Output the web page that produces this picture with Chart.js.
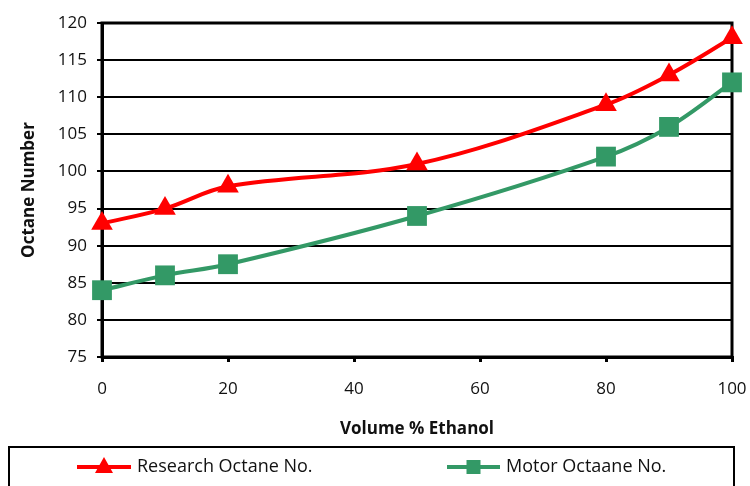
<!DOCTYPE html>
<html lang="en">
<head>
    <meta charset="UTF-8">
    <title>Octane Number vs Volume % Ethanol</title>
    <script src="https://cdn.jsdelivr.net/npm/chart.js"></script>
    <style>
        html, body { margin: 0; padding: 0; background: #fff; }
        #wrap { width: 750px; height: 486px; position: relative; }
    </style>
</head>
<body>
    <div id="wrap"><canvas id="octane-chart"></canvas></div>

    <script>
        // Volume % ethanol in the blend
        const ethanol = [0, 10, 20, 50, 80, 90, 100];
        // Octane numbers per blend
        const researchOctane = [93, 95, 98, 101, 109, 113, 118];
        const motorOctane = [84, 86, 87.5, 94, 102, 106, 112];
        const yTicks = [75, 80, 85, 90, 95, 100, 105, 110, 115, 120];
        const xTicks = [0, 20, 40, 60, 80, 100];

        const RED = '#ff0000';
        const GREEN = '#339966';
        const FONT = "'Open Sans', 'DejaVu Sans', sans-serif";

        const toPoints = ys => ethanol.map((x, i) => ({ x: x, y: ys[i] }));

        // full black frame round the plot area
        const frame = {
            id: 'frame',
            beforeDatasetsDraw(chart) {
                const a = chart.chartArea;
                const ctx = chart.ctx;
                ctx.save();
                ctx.strokeStyle = '#000';
                ctx.lineWidth = 3;
                ctx.strokeRect(a.left, a.top, a.right - a.left, a.bottom - a.top);
                ctx.restore();
            }
        };

        // boxed legend under the axis title, line + marker for each series
        const boxLegend = {
            id: 'boxLegend',
            afterDraw(chart) {
                const ctx = chart.ctx;
                ctx.save();
                ctx.strokeStyle = '#000';
                ctx.lineWidth = 2;
                ctx.strokeRect(9, 447, 725, 50);

                const y = 467;
                const items = [
                    { x0: 77, x1: 131, text: 'Research Octane No.', color: RED, shape: 'triangle' },
                    { x0: 447, x1: 500, text: 'Motor Octaane No.', color: GREEN, shape: 'square' }
                ];
                items.forEach(it => {
                    ctx.strokeStyle = it.color;
                    ctx.fillStyle = it.color;
                    ctx.lineWidth = 4;
                    ctx.beginPath();
                    ctx.moveTo(it.x0, y);
                    ctx.lineTo(it.x1, y);
                    ctx.stroke();
                    const cx = (it.x0 + it.x1) / 2;
                    ctx.beginPath();
                    if (it.shape === 'triangle') {
                        ctx.moveTo(cx, y - 10);
                        ctx.lineTo(cx + 9, y + 6);
                        ctx.lineTo(cx - 9, y + 6);
                        ctx.closePath();
                    } else {
                        ctx.rect(cx - 7, y - 7, 14, 14);
                    }
                    ctx.fill();

                    ctx.fillStyle = '#111';
                    ctx.font = '18px ' + FONT;
                    ctx.textAlign = 'left';
                    ctx.textBaseline = 'middle';
                    ctx.fillText(it.text, it.x1 + 6, y);
                });
                ctx.restore();
            }
        };

        new Chart(document.getElementById('octane-chart'), {
            type: 'line',
            data: {
                datasets: [{
                    label: 'Research Octane No.',
                    data: toPoints(researchOctane),
                    borderColor: RED,
                    backgroundColor: RED,
                    borderWidth: 4,
                    pointStyle: 'triangle',
                    pointRadius: 12.5,
                    pointBorderWidth: 0,
                    tension: 0.35,
                    clip: false
                }, {
                    label: 'Motor Octaane No.',
                    data: toPoints(motorOctane),
                    borderColor: GREEN,
                    backgroundColor: GREEN,
                    borderWidth: 4,
                    pointStyle: 'rect',
                    pointRadius: 14,
                    pointBorderWidth: 0,
                    tension: 0.35,
                    clip: false
                }]
            },
            options: {
                responsive: true,
                maintainAspectRatio: false,
                animation: false,
                layout: { padding: { left: 0, top: 23, right: 18, bottom: 47 } },
                plugins: {
                    legend: { display: false },
                    tooltip: { enabled: false }
                },
                scales: {
                    x: {
                        type: 'linear',
                        min: 0,
                        max: 100,
                        afterBuildTicks: s => { s.ticks = xTicks.map(v => ({ value: v })); },
                        afterFit: s => { s.height = 82; s.paddingLeft = 0; s.paddingRight = 0; },
                        grid: { drawOnChartArea: false, drawTicks: true, tickLength: 5, color: '#000', lineWidth: 3 },
                        border: { display: true, color: '#000', width: 3 },
                        ticks: { color: '#111', padding: 17, font: { family: FONT, size: 17 } },
                        title: {
                            display: true,
                            text: 'Volume % Ethanol',
                            color: '#111',
                            padding: 0,
                            font: { family: FONT, size: 17, weight: 'bold' }
                        }
                    },
                    y: {
                        min: 75,
                        max: 120,
                        afterBuildTicks: s => { s.ticks = yTicks.map(v => ({ value: v })); },
                        afterFit: s => { s.width = 102; },
                        grid: { color: '#000', lineWidth: 2, drawTicks: true, tickLength: 5 },
                        border: { display: true, color: '#000', width: 3 },
                        ticks: { color: '#111', padding: 10, font: { family: FONT, size: 17 } },
                        title: {
                            display: true,
                            text: 'Octane Number',
                            color: '#111',
                            padding: { top: 19, bottom: 0 },
                            font: { family: FONT, size: 17, weight: 'bold' }
                        }
                    }
                }
            },
            plugins: [frame, boxLegend]
        });
    </script>
</body>
</html>
